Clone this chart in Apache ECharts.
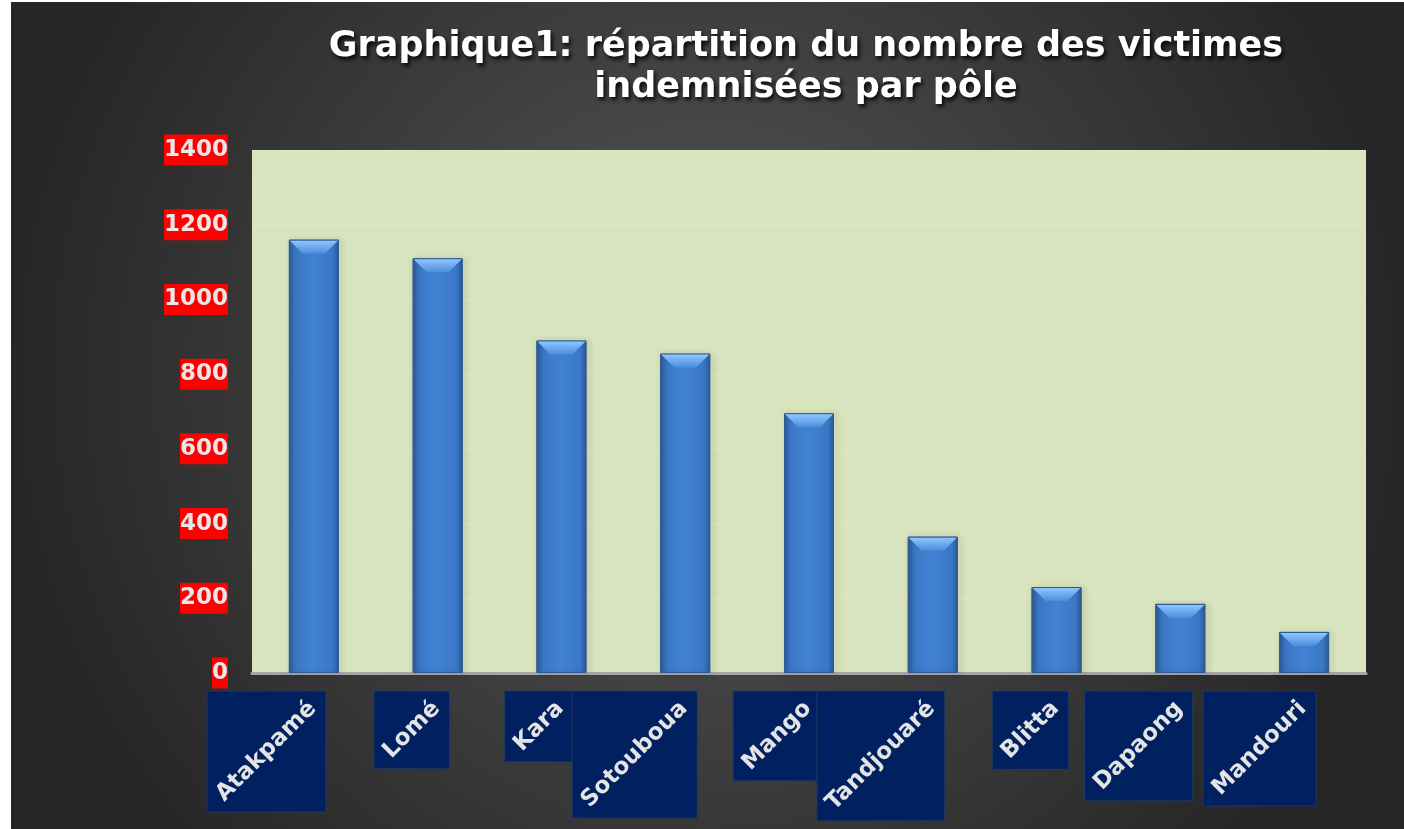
<!DOCTYPE html>
<html>
<head>
<meta charset="utf-8">
<script src="https://cdn.jsdelivr.net/npm/echarts@6/dist/echarts.min.js"></script>
<style>
  html, body { margin: 0; padding: 0; background: #ffffff; }
  #chart { position: absolute; left: 11px; top: 2px; width: 1393px; height: 827px; }
</style>
</head>
<body>
<div id="chart"></div>
<script>
// data
let poles = ['Atakpamé', 'Lomé', 'Kara', 'Sotouboua', 'Mango', 'Tandjouaré', 'Blitta', 'Dapaong', 'Mandouri'];
let victimes = [1160, 1110, 890, 855, 695, 365, 230, 185, 110];
let yTicks = [0, 200, 400, 600, 800, 1000, 1200, 1400];

let labelFont = 'bold 23px "DejaVu Sans"';
let labelSize = 23;
let cv = document.createElement('canvas').getContext('2d');
cv.font = labelFont;
function textLen(s) { return cv.measureText(s).width; }

const S = Math.SQRT1_2;
const PADX = 5, PADY = 6;
const BAR_W = 50, BEVEL = 13;
// box geometry for a rotated label hanging under category i
function labelBox(api, i) {
    let p = api.coord([i, 0]);
    let L = textLen(poles[i]);
    let side = (L + labelSize) * S;
    let right = p[0] + 12;
    let top = p[1] + 18;
    return {
        x: right - side - 2 * PADX, y: top,
        w: side + 2 * PADX, h: side + 2 * PADY,
        ax: right - PADX - 0.354 * labelSize,
        ay: top + PADY + 0.354 * labelSize
    };
}

let myChart = echarts.init(document.getElementById('chart'));
let option = {
    backgroundColor: {
        type: 'radial', x: 0.5, y: 0.45, r: 0.85,
        colorStops: [{offset: 0, color: '#585858'}, {offset: 1, color: '#262626'}]
    },
    title: {
        text: 'Graphique1: répartition du nombre des victimes\nindemnisées par pôle',
        left: 795,
        top: 24,
        padding: 0,
        textAlign: 'center',
        textStyle: {
            color: '#ffffff',
            fontFamily: 'DejaVu Sans',
            fontWeight: 'bold',
            fontSize: 35,
            lineHeight: 41,
            textShadowColor: 'rgba(0,0,0,0.9)',
            textShadowBlur: 4,
            textShadowOffsetX: 2,
            textShadowOffsetY: 3
        }
    },
    grid: {
        left: 241, right: 38, top: 148, bottom: 156,
        show: true, backgroundColor: '#d8e4bd', borderWidth: 0
    },
    xAxis: {
        type: 'category',
        data: poles,
        axisLine: {lineStyle: {color: '#a6a6a6', width: 3}},
        axisTick: {show: false},
        axisLabel: {show: false}
    },
    yAxis: {
        type: 'value',
        min: yTicks[0],
        max: yTicks[yTicks.length - 1],
        interval: 200,
        axisLine: {show: false},
        axisTick: {show: false},
        splitLine: {lineStyle: {color: 'rgba(255,255,255,0.2)'}},
        axisLabel: {
            margin: 24,
            formatter: v => String(v),
            color: '#e8e8e8',
            fontFamily: 'DejaVu Sans',
            fontWeight: 'bold',
            fontSize: 23,
            lineHeight: 31,
            backgroundColor: '#ff0000',
            padding: [0, 0, 0, 0]
        }
    },
    series: [{
        type: 'bar',
        data: victimes,
        barWidth: BAR_W,
        itemStyle: {
            color: {
                type: 'linear', x: 0, y: 0, x2: 1, y2: 0,
                colorStops: [
                    {offset: 0, color: '#2c5b98'},
                    {offset: 0.12, color: '#3b77c6'},
                    {offset: 0.5, color: '#4282d3'},
                    {offset: 0.88, color: '#3b77c6'},
                    {offset: 1, color: '#2c5b98'}
                ]
            },
            borderColor: '#2d5a93',
            borderWidth: 1,
            shadowColor: 'rgba(0,0,0,0.35)',
            shadowBlur: 6,
            shadowOffsetX: 2,
            shadowOffsetY: 1
        }
    }, {
        // light bevel on top of each bar
        type: 'custom',
        silent: true,
        z: 3,
        data: victimes.map((v, i) => [i, v]),
        renderItem: function (params, api) {
            let p = api.coord([api.value(0), api.value(1)]);
            let x0 = p[0] - BAR_W / 2 + 1, x1 = p[0] + BAR_W / 2 - 1, y = p[1] + 1;
            return {
                type: 'polygon',
                shape: {points: [[x0, y], [x1, y], [x1 - BEVEL, y + BEVEL], [x0 + BEVEL, y + BEVEL]]},
                style: {
                    fill: {
                        type: 'linear', x: 0, y: 0, x2: 0, y2: 1,
                        colorStops: [{offset: 0, color: '#8ec6ff'}, {offset: 1, color: '#4c8ddb'}]
                    }
                }
            };
        }
    }, {
        // navy boxes behind the category names
        type: 'custom',
        silent: true,
        z: 5,
        data: poles.map((p, i) => [i]),
        renderItem: function (params, api) {
            let b = labelBox(api, api.value(0));
            return {
                type: 'rect',
                shape: {x: b.x, y: b.y, width: b.w, height: b.h},
                style: {fill: '#002060', stroke: '#24385e', lineWidth: 1}
            };
        }
    }, {
        // category names, rotated 45 degrees
        type: 'custom',
        silent: true,
        z: 6,
        data: poles.map((p, i) => [i]),
        renderItem: function (params, api) {
            let i = api.value(0);
            let b = labelBox(api, i);
            return {
                type: 'text',
                x: b.ax, y: b.ay,
                rotation: Math.PI / 4,
                style: {
                    text: poles[i],
                    font: labelFont,
                    fill: '#e4e4e4',
                    align: 'right',
                    verticalAlign: 'middle'
                }
            };
        }
    }]
};
myChart.setOption(option);
</script>
</body>
</html>
